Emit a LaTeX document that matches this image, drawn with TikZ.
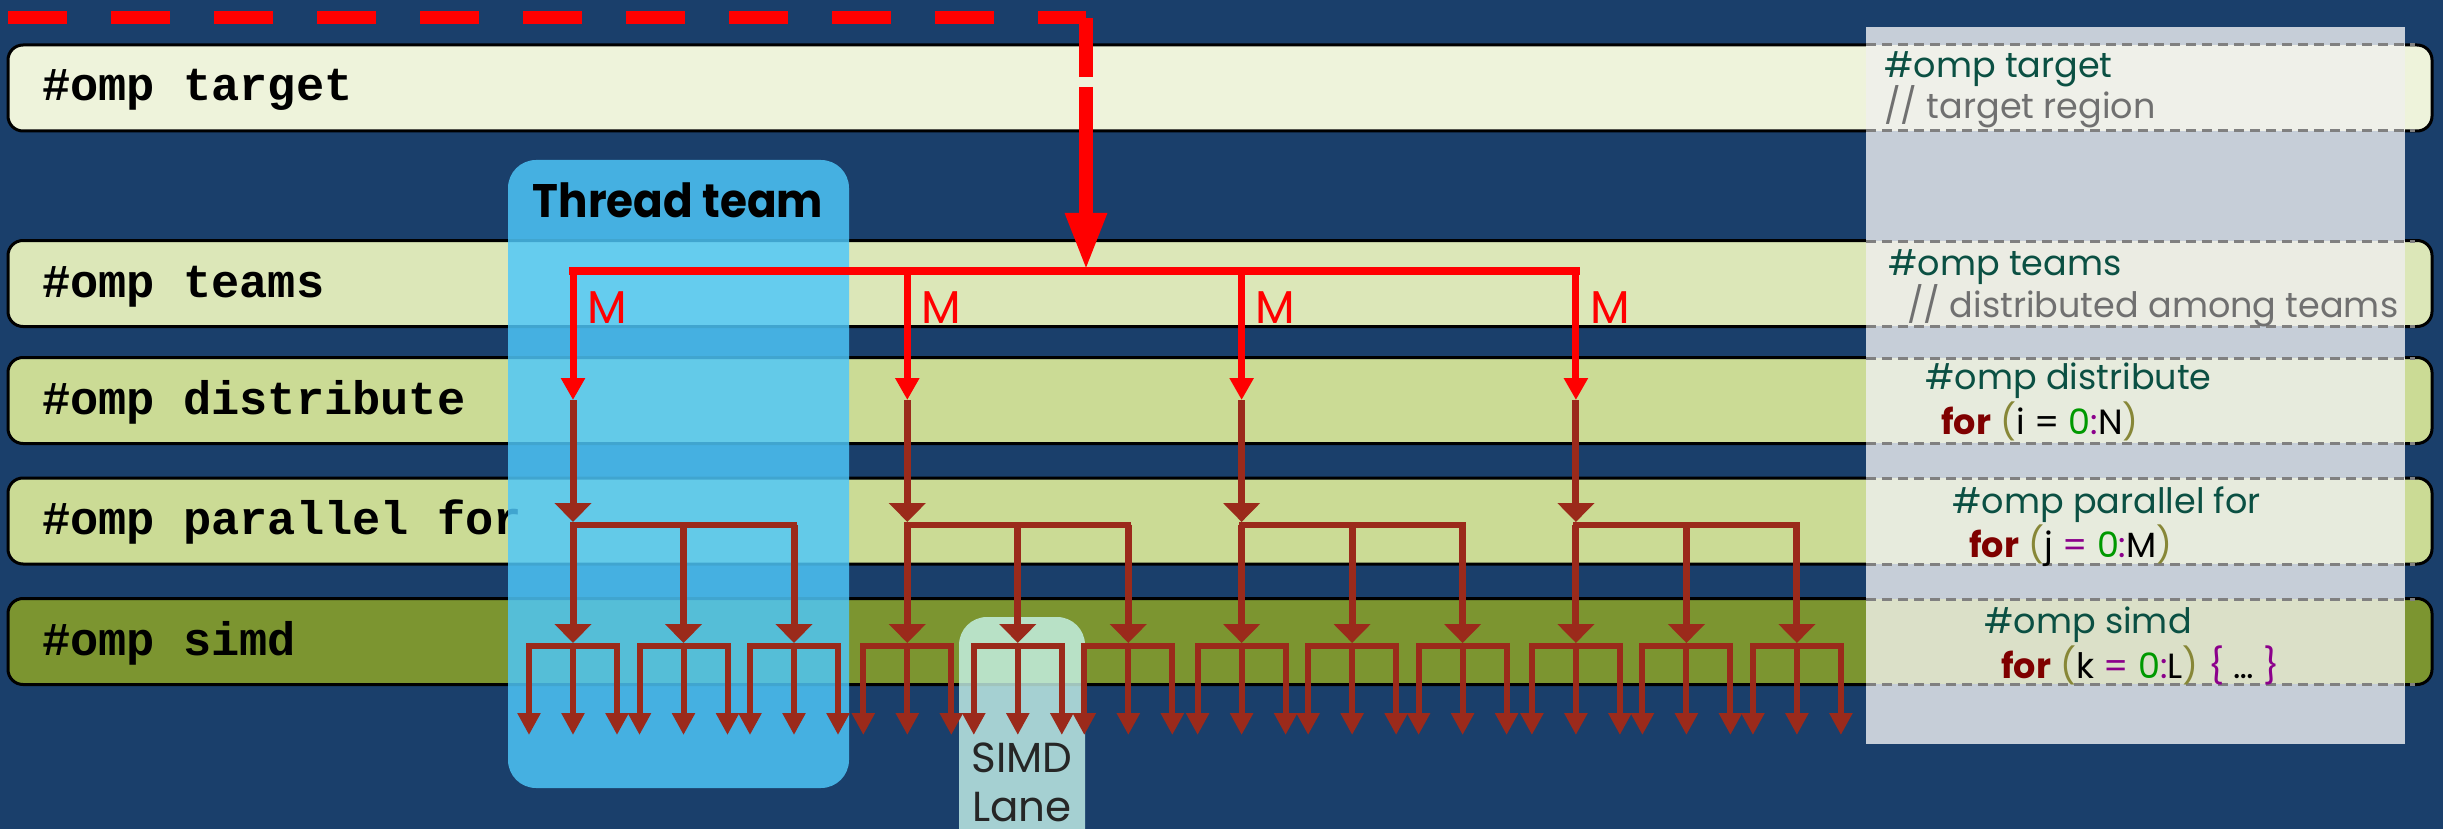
\documentclass[tikz,border=0pt]{standalone}
\usepackage{fontspec}
\setmainfont{Poppins}
\newfontfamily\pragmafont{Liberation Mono}
\usepackage{xcolor}
\usepackage{graphicx}
\usetikzlibrary{arrows.meta}
\definecolor{slidebg}{HTML}{1A3F6B}
\definecolor{bandtarget}{HTML}{EEF3DB}
\definecolor{bandteams}{HTML}{DCE7B8}
\definecolor{banddist}{HTML}{CBDB95}
\definecolor{bandsimd}{HTML}{7C9530}
\definecolor{teamblue}{HTML}{4EC7FA}
\definecolor{lanegreen}{HTML}{C8F5EC}
\definecolor{panelgray}{HTML}{C6CED8}
\definecolor{boxtarget}{HTML}{EFF0E9}
\definecolor{boxteams}{HTML}{EBECE3}
\definecolor{boxdist}{HTML}{E7EBDD}
\definecolor{boxsimd}{HTML}{DBE0C8}
\definecolor{brick}{HTML}{9B2A1B}
\definecolor{pragmateal}{HTML}{0B5043}
\definecolor{commentgray}{HTML}{707070}
\definecolor{kwred}{HTML}{7F0000}
\definecolor{parenolive}{HTML}{878737}
\definecolor{numgreen}{HTML}{009900}
\definecolor{oppurple}{HTML}{8B008B}
\newcommand{\forkw}{\textcolor{kwred}{\textbf{for}}}
\newcommand{\parL}{\textcolor{parenolive}{(}}
\newcommand{\parR}{\textcolor{parenolive}{)}}
\newcommand{\opc}[1]{\textcolor{oppurple}{#1}}
\newcommand{\zeroc}{\textcolor{numgreen}{0}}

\begin{document}
\begin{tikzpicture}[x=1pt,y=-1pt,
    band/.style={draw=black,line width=3pt,rounded corners=15pt,minimum width=2424pt,minimum height=86pt,inner sep=0pt},
    bandlabel/.style={anchor=base west,inner sep=0pt,font=\pragmafont\bfseries\fontsize{47}{50}\selectfont},
    codetext/.style={anchor=base west,inner sep=0pt,text=pragmateal,font=\fontsize{35}{40}\selectfont},
    codedash/.style={draw=gray,line width=3pt,dash pattern=on 10pt off 6pt},
    mlabel/.style={anchor=base west,inner sep=0pt,text=red,font=\fontsize{46}{50}\selectfont},
    redarrow/.style={red,line width=7pt,-{Triangle[length=22pt,width=23pt]}},
    brickarrow/.style={brick,line width=7pt,-{Triangle[length=19pt,width=36pt]}},
    leafarrow/.style={brick,line width=6pt,-{Triangle[length=22pt,width=22pt]}},
    bar/.style={brick,line width=6pt,line cap=rect}]
  \useasboundingbox (0,0) rectangle (2443,829);
  \fill[slidebg] (0,0) rectangle (2443,829);

  \node[band,fill=bandtarget] (target) at (1220,88) {};
  \node[band,fill=bandteams] (teams) at (1220,283.5) {};
  \node[band,fill=banddist] (distribute) at (1220,400.5) {};
  \node[band,fill=banddist] (parallel) at (1220,521) {};
  \node[band,fill=bandsimd] (simd) at (1220,641.5) {};
  \node[bandlabel] (targetlbl) at (42,101) {\#omp target};
  \node[bandlabel] (teamslbl) at (42,297) {\#omp teams};
  \node[bandlabel] (distlbl) at (42,414) {\#omp distribute};
  \node[bandlabel] (parlbl) at (42,534) {\#omp parallel for};
  \node[bandlabel] (simdlbl) at (42,655) {\#omp simd};

  \node[fill=teamblue,fill opacity=0.83,rounded corners=28pt,minimum width=341pt,minimum height=628pt] (teambox) at (678.5,474) {};
  \node[anchor=base,font=\bfseries\fontsize{47}{50}\selectfont] (teamlbl) at (678,218) {\scalebox{0.93}[1]{Thread team}};
  \node[fill=lanegreen,fill opacity=0.8,rounded corners=28pt,minimum width=126pt,minimum height=250pt] (lanebox) at (1022,742) {};
  \node[anchor=base,text=black!85,font=\fontsize{42}{50}\selectfont] (simdtxt) at (1022,772) {SIMD};
  \node[anchor=base,text=black!85,font=\fontsize{42}{50}\selectfont] (lanetxt) at (1022,821) {Lane};

  \fill[panelgray] (1866,27) rectangle (2405,744);
  \foreach \ya/\yb/\c in {45/131/boxtarget,241/326/boxteams,358/443/boxdist,478/564/boxdist,599/684/boxsimd}{
    \fill[\c] (1866,\ya) rectangle (2405,\yb);
    \draw[codedash] (1866,\ya) -- (2415,\ya) (1866,\yb) -- (2415,\yb);
  }
  \node[codetext] (code1) at (1884,78) {\#omp target};
  \node[codetext,text=commentgray] (code2) at (1884,119) {// target region};
  \node[codetext] (code3) at (1888,275) {\#omp teams};
  \node[codetext,text=commentgray] (code4) at (1907,317) {// distributed among teams};
  \node[codetext] (code5) at (1925,389) {\#omp distribute};
  \node[codetext,text=black] (code6) at (1941,434) {\forkw{} \parL i = \zeroc\opc{:}N\parR};
  \node[codetext] (code7) at (1952,513) {\#omp parallel for};
  \node[codetext,text=black] (code8) at (1969,557) {\forkw{} \parL j \opc{=} \zeroc\opc{:}M\parR};
  \node[codetext] (code9) at (1984,633) {\#omp simd};
  \node[codetext,text=black] (code10) at (2001,678) {\forkw{} \parL k \opc{=} \zeroc\opc{:}L\parR{} \opc{\{} \ldots{} \opc{\}}};

  \coordinate (start) at (8,18);
  \coordinate (bend) at (1086,18);
  \coordinate (hub) at (1086,271);
  \draw[red,line width=13pt,dash pattern=on 59pt off 44pt] (start) -- (bend);
  \draw[red,line width=14pt,dash pattern=on 59pt off 10pt on 600pt off 0pt,-{Triangle[length=58pt,width=38pt]}] (bend) -- (hub);

  \foreach \i in {1,...,4}{
    \pgfmathsetmacro\tx{573+334.3*(\i-1)}
    \coordinate (team\i) at (\tx,271);
    \coordinate (dist\i) at (\tx,400);
    \coordinate (par\i) at (\tx,522);
  }
  \draw[red,line width=8pt,line cap=rect] (team1) -- (team4);
  \foreach \i in {1,...,4}{
    \pgfmathsetmacro\tx{573+334.3*(\i-1)}
    \draw[redarrow] (team\i) -- (dist\i);
    \node[mlabel] (m\i) at (\tx+14,323) {M};
    \draw[brickarrow] (dist\i) -- (par\i);
    \foreach \j in {0,1,2}{
      \pgfmathsetmacro\cx{\tx+110.5*\j}
      \coordinate (pc\i\j) at (\cx,524.5);
      \coordinate (sc\i\j) at (\cx,643);
      \coordinate (sl\i\j) at (\cx-44,646);
      \coordinate (sr\i\j) at (\cx+44,646);
      \foreach \k in {-1,0,1}{
        \coordinate (lt\i\j\k) at (\cx+44*\k,646);
        \coordinate (lb\i\j\k) at (\cx+44*\k,735);
      }
    }
    \draw[bar] (pc\i0) -- (pc\i2);
    \foreach \j in {0,1,2}{
      \draw[brickarrow] (pc\i\j) -- (sc\i\j);
      \draw[bar] (sl\i\j) -- (sr\i\j);
      \foreach \k in {-1,0,1}
        \draw[leafarrow] (lt\i\j\k) -- (lb\i\j\k);
    }
  }
\end{tikzpicture}
\end{document}
